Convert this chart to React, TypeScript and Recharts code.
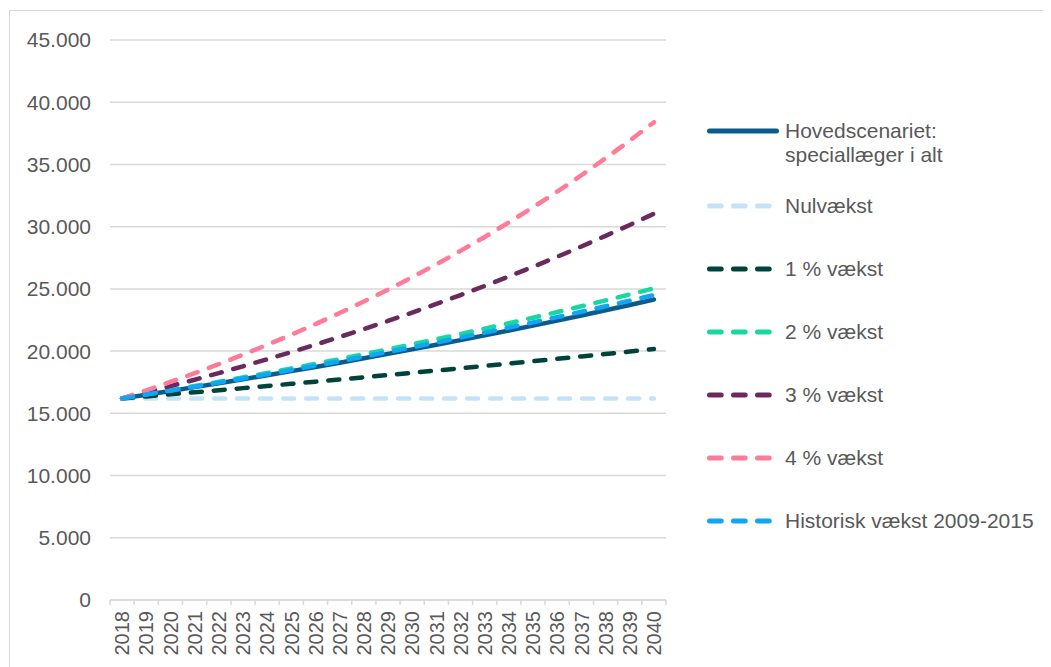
import React from 'react';
import { LineChart, Line, XAxis, YAxis, CartesianGrid, Legend } from 'recharts';

const years = ['2018','2019','2020','2021','2022','2023','2024','2025','2026','2027','2028','2029','2030','2031','2032','2033','2034','2035','2036','2037','2038','2039','2040'];

const hovedscenariet = [16200,16496,16798,17106,17419,17738,18062,18393,18729,19072,19421,19776,20138,20507,20882,21264,21654,22050,22453,22864,23283,23709,24143];
const nulvaekst = [16200,16200,16200,16200,16200,16200,16200,16200,16200,16200,16200,16200,16200,16200,16200,16200,16200,16200,16200,16200,16200,16200,16200];
const vaekst1 = [16200,16362,16526,16691,16858,17026,17197,17369,17542,17718,17895,18074,18255,18437,18622,18808,18996,19186,19378,19572,19767,19965,20165];
const vaekst2 = [16200,16524,16854,17192,17535,17886,18244,18609,18981,19361,19748,20143,20546,20957,21376,21803,22239,22684,23138,23601,24073,24554,25045];
const vaekst3 = [16200,16686,17187,17702,18233,18780,19344,19924,20522,21137,21771,22425,23097,23790,24504,25239,25996,26776,27579,28407,29259,30137,31041];
const vaekst4 = [16200,16848,17522,18223,18952,19710,20498,21318,22171,23058,23980,24939,25937,26974,28053,29175,30342,31556,32818,34131,35496,36916,38393];
const historisk = [16200,16508,16821,17141,17467,17799,18137,18481,18833,19190,19555,19927,20305,20691,21084,21485,21893,22309,22733,23165,23605,24053,24510];

const yTicks = [0,5000,10000,15000,20000,25000,30000,35000,40000,45000];

const seriesNames = [
  'Hovedscenariet: speciallæger i alt',
  'Nulvækst',
  '1 % vækst',
  '2 % vækst',
  '3 % vækst',
  '4 % vækst',
  'Historisk vækst 2009-2015',
];
const seriesKeys = ['hoved','nul','v1','v2','v3','v4','hist'];
const seriesColors = ['#0b5c8c','#c3e3fb','#00433a','#19d89f','#6a2a5f','#ff7b98','#10a5f5'];
const seriesDashed = [false,true,true,true,true,true,true];

const data = years.map((y, i) => ({
  year: y,
  hoved: hovedscenariet[i],
  nul: nulvaekst[i],
  v1: vaekst1[i],
  v2: vaekst2[i],
  v3: vaekst3[i],
  v4: vaekst4[i],
  hist: historisk[i],
}));

const FONT = '"Liberation Sans", Arial, sans-serif';
const TEXT = '#595959';
const GRID = '#d9d9d9';

const fmt = (v: number) => String(v).replace(/\B(?=(\d{3})+(?!\d))/g, '.');

const HALF_BAND = 12.09;

const XTick = (props: any) => {
  const { x, y, payload, index } = props;
  const last = index === years.length - 1;
  return (
    <g>
      <line x1={x - HALF_BAND} x2={x - HALF_BAND} y1={y} y2={y + 5} stroke={GRID} strokeWidth={1.5} />
      {last && <line x1={x + HALF_BAND} x2={x + HALF_BAND} y1={y} y2={y + 5} stroke={GRID} strokeWidth={1.5} />}
      <g transform={`translate(${x},${y})`}>
        <text transform="rotate(-90)" x={-11} y={0} dy="0.36em" textAnchor="end" fill={TEXT} fontSize={20} fontFamily={FONT}>
          {payload.value}
        </text>
      </g>
    </g>
  );
};

const legendTops = [11, 86, 149, 212, 275, 338, 401];

const renderLegend = () => (
  <div style={{ position: 'relative', width: 340, height: 430, fontFamily: FONT, fontSize: 21, color: TEXT }}>
    {seriesNames.map((name, i) => {
      const top = legendTops[i];
      const lines = i === 0 ? ['Hovedscenariet:', 'speciallæger i alt'] : [name];
      return (
        <div key={name} style={{ position: 'absolute', left: 0, top: top - 12, width: 340 }}>
          <svg width={80} height={24} style={{ position: 'absolute', left: 0, top: 0 }}>
            {seriesDashed[i] ? (
              <line x1={9.5} x2={71} y1={12} y2={12} stroke={seriesColors[i]} strokeWidth={5} strokeLinecap="round" strokeDasharray="11.7 12.3" />
            ) : (
              <line x1={9.5} x2={76.5} y1={12} y2={12} stroke={seriesColors[i]} strokeWidth={5} strokeLinecap="round" />
            )}
          </svg>
          <div style={{ position: 'absolute', left: 85, top: 0, lineHeight: '24px', whiteSpace: 'nowrap' }}>
            {lines.map((l) => (
              <div key={l}>{l}</div>
            ))}
          </div>
        </div>
      );
    })}
  </div>
);

export default function App() {
  return (
    <div style={{ width: 1043, height: 659, overflow: 'hidden', paddingTop: 2, boxSizing: 'border-box', background: '#fff' }}>
      <div style={{ marginLeft: 1, width: 1100, height: 720, border: `1px solid ${GRID}`, boxSizing: 'border-box', background: '#fff' }}>
        <LineChart
          width={1000}
          height={700}
          data={data}
          margin={{ top: 29, left: 0, right: 344, bottom: 41 }}
        >
          <CartesianGrid vertical={false} stroke={GRID} strokeWidth={1.5} />
          <XAxis
            dataKey="year"
            interval={0}
            height={70}
            padding={{ left: HALF_BAND, right: HALF_BAND }}
            tickLine={false}
            tickSize={0}
            tickMargin={0}
            axisLine={{ stroke: GRID, strokeWidth: 1.5 }}
            tick={<XTick />}
          />
          <YAxis
            width={100}
            domain={[0, 45000]}
            ticks={yTicks}
            interval={0}
            axisLine={false}
            tickLine={false}
            tickSize={0}
            tickMargin={19}
            tickFormatter={fmt}
            tick={{ fill: TEXT, fontSize: 21, fontFamily: FONT }}
          />
          <Legend
            layout="vertical"
            align="center"
            verticalAlign="middle"
            content={renderLegend}
            wrapperStyle={{ position: 'absolute', left: 690, top: 109, width: 340, height: 430 }}
          />
          {seriesKeys.map((k, i) => (
            <Line
              key={k}
              type="linear"
              dataKey={k}
              name={seriesNames[i]}
              stroke={seriesColors[i]}
              strokeWidth={4.5}
              strokeLinecap="round"
              strokeDasharray={seriesDashed[i] ? '11 12' : undefined}
              dot={false}
              activeDot={false}
              isAnimationActive={false}
            />
          ))}
        </LineChart>
      </div>
    </div>
  );
}
